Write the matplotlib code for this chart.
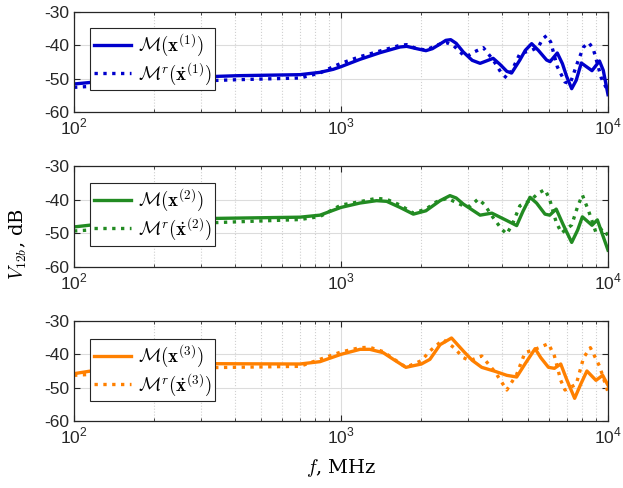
import numpy as np
import matplotlib.pyplot as plt

# dados: frequencia em MHz, V12b em dB
f1_sol = [100, 120, 224, 413, 702, 834, 935, 1000, 1178, 1400, 1663, 1762, 1920, 2080, 2200,
          2350, 2470, 2576, 2700, 2871, 3100, 3319, 3500, 3715, 3950, 4178, 4355, 4677, 4900,
          5176, 5484, 5888, 6067, 6457, 6750, 6998, 7311, 7600, 7943, 8710, 9290, 9600, 10000]
v1_sol = [-51.6, -51.0, -49.8, -49.1, -48.8, -48.1, -47.2, -46.4, -44.2, -42.2, -40.5, -40.3, -41.0, -41.6, -41.0,
          -39.6, -38.5, -38.3, -39.4, -42.0, -44.5, -45.4, -44.7, -43.9, -45.8, -47.8, -48.3, -44.4, -41.5,
          -39.5, -41.5, -44.4, -44.9, -42.3, -45.5, -49.3, -53.0, -50.5, -45.3, -47.6, -44.7, -47.5, -54.8]

f1_dot = [100, 224, 413, 702, 834, 935, 1000, 1178, 1400, 1663, 1762, 1920, 2080, 2350, 2488,
          2650, 2871, 2958, 3150, 3413, 3715, 4000, 4178, 4400, 4677, 5176, 5484, 5700, 5888,
          6100, 6457, 6900, 7211, 7700, 8100, 8472, 8800, 9016, 9441, 10000]
v1_dot = [-52.6, -51.0, -50.3, -49.8, -48.3, -46.4, -45.4, -43.4, -41.7, -40.0, -39.8, -41.0, -41.4, -39.6, -39.2,
          -40.2, -42.9, -43.4, -42.0, -40.7, -44.4, -48.5, -49.8, -47.0, -42.5, -41.5, -40.5, -38.0, -37.1,
          -39.0, -46.4, -51.0, -51.5, -45.0, -40.5, -39.2, -41.0, -44.0, -49.8, -53.8]

f2_sol = [100, 120, 316, 702, 834, 1000, 1178, 1358, 1483, 1663, 1866, 2080, 2350, 2559, 2700,
          2871, 3319, 3673, 4178, 4550, 4800, 5105, 5400, 5808, 6050, 6397, 6800, 7311, 7700,
          8017, 8710, 9120, 10000]
v2_sol = [-48.1, -47.4, -45.6, -45.2, -44.6, -42.3, -41.0, -40.3, -40.5, -42.3, -44.3, -43.3, -40.3, -38.8, -39.5,
          -41.3, -44.6, -44.0, -46.2, -47.7, -43.5, -39.3, -41.0, -44.3, -44.6, -42.8, -47.5, -52.7, -49.0,
          -45.1, -47.6, -46.0, -55.0]

f2_dot = [100, 316, 702, 834, 1000, 1178, 1358, 1483, 1663, 1866, 2080, 2282, 2500, 2871, 3041,
          3266, 3450, 3673, 4000, 4178, 4400, 4677, 5105, 5500, 5808, 6050, 6397, 6699, 7311,
          7700, 8017, 8472, 9016, 9550, 10000]
v2_dot = [-49.3, -46.9, -45.9, -45.0, -41.6, -40.6, -39.6, -39.9, -41.6, -44.0, -42.8, -40.6, -39.6, -41.8, -42.0,
          -39.8, -41.5, -44.8, -48.8, -50.2, -47.0, -41.8, -40.3, -38.0, -37.0, -40.0, -46.7, -49.9, -47.5,
          -42.0, -38.6, -43.5, -49.8, -48.5, -50.7]

f3_sol = [100, 120, 316, 702, 834, 1000, 1178, 1282, 1439, 1570, 1750, 2000, 2153, 2350, 2594,
          2871, 3100, 3365, 3776, 4178, 4550, 4887, 5333, 5600, 5984, 6300, 6653, 7000, 7500,
          7900, 8337, 9016, 9550, 10000]
v3_sol = [-45.8, -44.8, -42.8, -42.9, -42.2, -40.0, -38.5, -38.5, -39.5, -41.5, -43.9, -42.9, -41.5, -37.1, -35.1,
          -39.0, -41.8, -43.9, -45.1, -46.3, -46.8, -42.9, -38.3, -41.0, -43.9, -44.2, -42.9, -47.5, -53.2,
          -49.0, -45.0, -47.8, -46.3, -49.3]

f3_dot = [100, 316, 702, 1000, 1178, 1282, 1439, 1570, 1750, 2000, 2153, 2415, 2650, 2871, 3041,
          3365, 3776, 4178, 4550, 4887, 5333, 5984, 6300, 6653, 6900, 7603, 8100, 8590, 9290, 10000]
v3_dot = [-46.3, -44.0, -43.6, -39.3, -38.0, -37.9, -39.2, -41.3, -43.9, -41.9, -39.0, -35.6, -38.0, -41.0, -41.9,
          -40.5, -45.3, -50.7, -46.0, -39.5, -38.5, -36.8, -40.5, -47.8, -50.7, -49.0, -41.0, -38.0, -43.5, -51.3]

cores = ['#0000CC', '#228B22', '#FF8000']
series = [(f1_sol, v1_sol, f1_dot, v1_dot),
          (f2_sol, v2_sol, f2_dot, v2_dot),
          (f3_sol, v3_sol, f3_dot, v3_dot)]
y_ticks = [-60, -50, -40, -30]

plt.rcParams['font.family'] = ['Liberation Sans', 'DejaVu Sans']
plt.rcParams['mathtext.fontset'] = 'custom'
plt.rcParams['mathtext.rm'] = 'Liberation Sans'
plt.rcParams['axes.unicode_minus'] = False

fig = plt.figure(figsize=(6.23, 4.88), dpi=100)

# posicoes dos paineis em pixels (topo, base)
limites = [(12, 112), (166, 267), (321, 421)]
leg_top = [0.84, 0.83, 0.82]
W, H = 623, 488

for i, (fs, vs, fd, vd) in enumerate(series):
    top, bot = limites[i]
    ax = fig.add_axes([74 / W, 1 - bot / H, 534 / W, (bot - top) / H])
    ax.semilogx(fs, vs, '-', color=cores[i], lw=2.4,
                label=r'$\mathcal{M}(\mathbf{x}^{(%d)})$' % (i + 1))
    ax.semilogx(fd, vd, ':', color=cores[i], lw=2.4,
                label=r'$\mathcal{M}^r(\dot{\mathbf{x}}^{(%d)})$' % (i + 1))
    ax.set_xlim(100, 10000)
    ax.set_ylim(-60, -30)
    ax.set_yticks(y_ticks)
    ax.set_yticklabels([str(t) for t in y_ticks])
    ax.set_xticks([100, 1000, 10000])
    ax.set_xticklabels([r'$10^2$', r'$10^3$', r'$10^4$'])
    ax.grid(True, which='major', color='#dcdcdc', lw=0.8)
    ax.grid(True, which='minor', axis='x', color='#d0d0d0', ls=':', lw=0.8)
    ax.set_axisbelow(True)
    ax.tick_params(which='both', direction='in', top=True, right=True,
                   labelsize=12.5, colors='#262626')
    ax.tick_params(which='major', length=4)
    ax.tick_params(which='minor', length=2)
    for s in ax.spines.values():
        s.set_color('#262626')
        s.set_linewidth(0.9)
    leg = ax.legend(loc='upper left', bbox_to_anchor=(0.03, leg_top[i]),
                    fontsize=13.5, fancybox=False, framealpha=1,
                    edgecolor='#262626', handlelength=2.0, borderpad=0.2,
                    labelspacing=0.1, handletextpad=0.35, borderaxespad=0)
    leg.get_frame().set_linewidth(0.8)
    for t in leg.get_texts():
        t.set_math_fontfamily('cm')

fig.text(0.03, 0.5, r'$V_{12b}$, dB', rotation=90, va='center', ha='center',
         fontsize=14, family='DejaVu Serif', math_fontfamily='cm')
fig.text((74 + 267) / W, 1 - 468 / H, r'$f$, MHz', va='center', ha='center',
         fontsize=14, family='DejaVu Serif', math_fontfamily='cm')

fig.savefig('out.png', dpi=100)
